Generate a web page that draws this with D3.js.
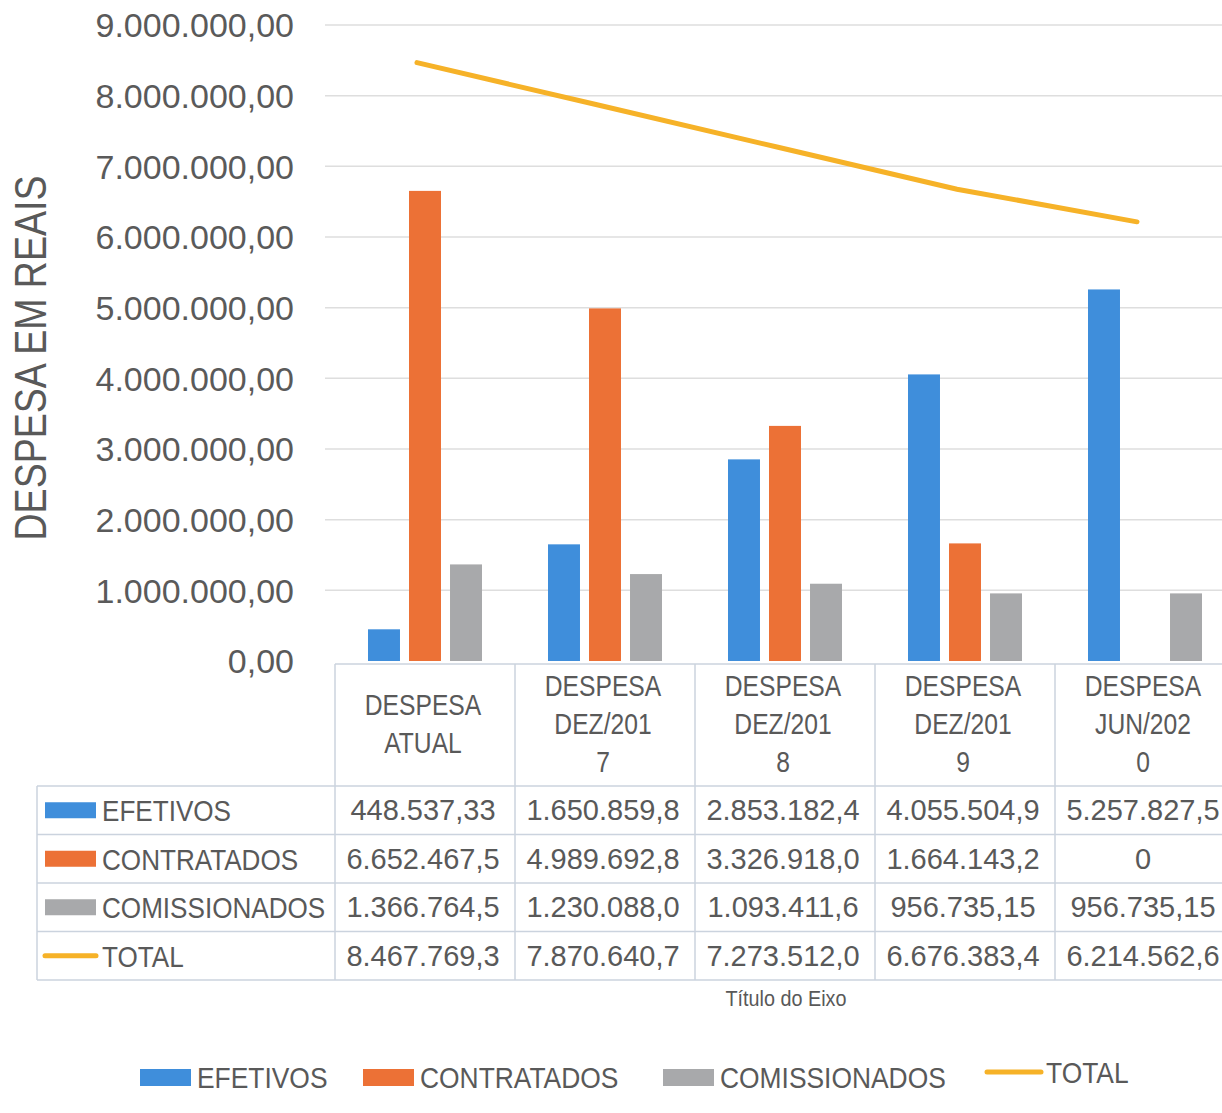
<!DOCTYPE html>
<html lang="pt-BR">
<head>
<meta charset="UTF-8">
<title>Despesa em reais</title>
<script src="https://cdn.jsdelivr.net/npm/d3@7/dist/d3.min.js"></script>
<style>
  body { margin: 0; background: #ffffff; }
  svg text { font-family: "Liberation Sans", sans-serif; fill: #595959; }
</style>
</head>
<body>
<svg id="chart" width="1222" height="1113"></svg>
<script>
// data
const categories = ["DESPESA ATUAL", "DESPESA DEZ/2017", "DESPESA DEZ/2018", "DESPESA DEZ/2019", "DESPESA JUN/2020"];
const efetivos = [448537.33, 1650859.80, 2853182.40, 4055504.90, 5257827.50];
const contratados = [6652467.50, 4989692.80, 3326918.00, 1664143.20, 0];
const comissionados = [1366764.50, 1230088.00, 1093411.60, 956735.15, 956735.15];
const total = [8467769.30, 7870640.70, 7273512.00, 6676383.40, 6214562.60];
const yTicks = [0, 1e6, 2e6, 3e6, 4e6, 5e6, 6e6, 7e6, 8e6, 9e6];

const series = [
  {name: "EFETIVOS", values: efetivos, color: "#3f8edb", type: "bar"},
  {name: "CONTRATADOS", values: contratados, color: "#ec7136", type: "bar"},
  {name: "COMISSIONADOS", values: comissionados, color: "#a8a9ab", type: "bar"},
  {name: "TOTAL", values: total, color: "#f6b228", type: "line"}
];

const svg = d3.select("#chart");
const plotLeft = 335, colW = 180;
const plotRight = plotLeft + colW * categories.length;

const x = d3.scaleBand().domain(categories).range([plotLeft, plotRight]);
const y = d3.scaleLinear().domain([0, 9e6]).range([661, 25]);

const fmt = v => {
  if (v === 0) return "0";
  const s = v.toLocaleString("pt-BR", {minimumFractionDigits: 2, maximumFractionDigits: 2});
  return s.slice(0, 11);
};

// text squeezed sideways, to get close to the narrow Calibri look
function label(g, px, py, str, size, anchor, sx) {
  return g.append("text")
    .attr("transform", `translate(${px},${py}) scale(${sx},1)`)
    .attr("dy", "0.35em")
    .attr("text-anchor", anchor)
    .attr("font-size", size)
    .text(str);
}

// gridlines
svg.append("g")
  .selectAll("line").data(yTicks.slice(1)).join("line")
  .attr("x1", 325).attr("x2", 1222)
  .attr("y1", d => y(d)).attr("y2", d => y(d))
  .attr("stroke", "#dedede").attr("stroke-width", 1.5);

// y axis labels
const yAxis = svg.append("g")
  .attr("transform", "translate(294,0)")
  .call(d3.axisLeft(y).tickValues(yTicks).tickSize(0).tickPadding(0)
    .tickFormat(d => d.toLocaleString("pt-BR", {minimumFractionDigits: 2})));
yAxis.select(".domain").remove();
yAxis.selectAll("text")
  .attr("font-size", 34)
  .style("font-family", "'Liberation Sans', sans-serif")
  .style("fill", "#5a5a5a")
  .attr("dy", "0.35em");

svg.append("text")
  .attr("transform", "translate(30,358) rotate(-90)")
  .attr("dy", "0.35em")
  .attr("text-anchor", "middle")
  .attr("font-size", 45)
  .attr("textLength", 365)
  .attr("lengthAdjust", "spacingAndGlyphs")
  .text("DESPESA EM REAIS");

// bars
const barSeries = series.filter(s => s.type === "bar");
const inner = d3.scaleBand().domain(barSeries.map(s => s.name))
  .range([33, 147]).paddingInner(0.22);

barSeries.forEach(s => {
  svg.append("g")
    .selectAll("rect").data(categories).join("rect")
    .attr("x", d => x(d) + inner(s.name))
    .attr("width", inner.bandwidth())
    .attr("y", (d, i) => y(s.values[i]))
    .attr("height", (d, i) => y(0) - y(s.values[i]))
    .attr("fill", s.color);
});

// total line
const lineSeries = series.find(s => s.type === "line");
svg.append("path")
  .datum(categories)
  .attr("fill", "none")
  .attr("stroke", lineSeries.color)
  .attr("stroke-width", 5)
  .attr("stroke-linecap", "round")
  .attr("d", d3.line()
    .x(d => x(d) + x.bandwidth() / 2 - 8)
    .y((d, i) => y(lineSeries.values[i])));

// data table
const gridColor = "#cbd3de";
const rowTop = 786, rowH = 48.5;
const tableLeft = 37;
const table = svg.append("g");

// axis baseline
table.append("line")
  .attr("x1", plotLeft).attr("x2", 1222).attr("y1", y(0) + 3).attr("y2", y(0) + 3)
  .attr("stroke", gridColor).attr("stroke-width", 1.5);

// vertical lines
table.selectAll("line.v").data(categories).join("line")
  .attr("class", "v")
  .attr("x1", d => x(d)).attr("x2", d => x(d))
  .attr("y1", y(0) + 3).attr("y2", rowTop + rowH * series.length)
  .attr("stroke", gridColor).attr("stroke-width", 1.5);
table.append("line")
  .attr("x1", tableLeft).attr("x2", tableLeft)
  .attr("y1", rowTop).attr("y2", rowTop + rowH * series.length)
  .attr("stroke", gridColor).attr("stroke-width", 1.5);

// horizontal lines
table.selectAll("line.h").data(d3.range(series.length + 1)).join("line")
  .attr("class", "h")
  .attr("x1", tableLeft).attr("x2", 1222)
  .attr("y1", i => rowTop + rowH * i).attr("y2", i => rowTop + rowH * i)
  .attr("stroke", gridColor).attr("stroke-width", 1.5);

// header labels, wrapped like the narrow Excel cells
categories.forEach(c => {
  const rest = c.slice(8);
  const lines = ["DESPESA"];
  for (let k = 0; k < rest.length; k += 7) lines.push(rest.slice(k, k + 7));
  const lh = 38;
  const cy = (y(0) + rowTop) / 2;
  const y0 = cy - (lines.length - 1) * lh / 2;
  lines.forEach((ln, j) => {
    label(table, x(c) + x.bandwidth() / 2 - 2, y0 + j * lh, ln, 29, "middle", 0.85);
  });
});

// rows
series.forEach((s, r) => {
  const cy = rowTop + rowH * r + rowH / 2;
  if (s.type === "bar") {
    table.append("rect")
      .attr("x", 45).attr("y", cy - 8).attr("width", 51).attr("height", 16)
      .attr("fill", s.color);
  } else {
    table.append("line")
      .attr("x1", 45).attr("x2", 96).attr("y1", cy).attr("y2", cy)
      .attr("stroke", s.color).attr("stroke-width", 5).attr("stroke-linecap", "round");
  }
  label(table, 102, cy + 1, s.name, 29, "start", 0.9);
  categories.forEach((c, i) => {
    label(table, x(c) + x.bandwidth() / 2 - 2, cy, fmt(s.values[i]), 29, "middle", 1);
  });
});

label(svg, 786, 998, "Título do Eixo", 22, "middle", 0.9);

// legend
const legendX = [140, 363, 663, 987];
const legend = svg.append("g");
series.forEach((s, i) => {
  const ly = s.type === "bar" ? 1077 : 1072;
  if (s.type === "bar") {
    legend.append("rect")
      .attr("x", legendX[i]).attr("y", ly - 8).attr("width", 51).attr("height", 17)
      .attr("fill", s.color);
  } else {
    legend.append("line")
      .attr("x1", legendX[i]).attr("x2", legendX[i] + 54).attr("y1", ly).attr("y2", ly)
      .attr("stroke", s.color).attr("stroke-width", 5).attr("stroke-linecap", "round");
  }
  label(legend, legendX[i] + (s.type === "bar" ? 57 : 59), ly + 1, s.name, 29, "start", 0.91);
});
</script>
</body>
</html>
